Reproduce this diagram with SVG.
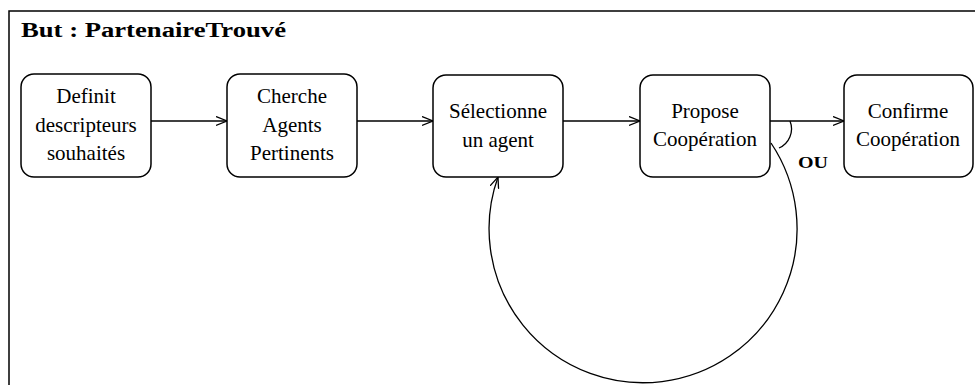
<svg xmlns="http://www.w3.org/2000/svg" width="975" height="385" viewBox="0 0 975 385">
<style>
.frame{fill:none;stroke:#000;stroke-width:1.5}
.node rect{fill:#fff;stroke:#000;stroke-width:1.5}
.node text{font-family:"Liberation Serif","DejaVu Serif",serif;font-size:21px;text-anchor:middle;fill:#000}
.conn{fill:none;stroke:#000;stroke-width:1.3}
.title{font-family:"Liberation Serif","DejaVu Serif",serif;font-size:20px;font-weight:bold;fill:#000}
.lbl{font-family:"Liberation Serif","DejaVu Serif",serif;font-size:17px;font-weight:bold;fill:#000}
</style>
<defs>
<marker id="arr" markerUnits="userSpaceOnUse" markerWidth="14" markerHeight="12" refX="11" refY="5" orient="auto">
<path d="M0,0.5 L11,5 L0,9.5" fill="none" stroke="#000" stroke-width="1.3"/>
</marker>
</defs>
<rect width="975" height="385" fill="#fff"/>
<path class="frame" d="M9,385 V11 H975"/>
<text class="title" x="21" y="37" textLength="265" lengthAdjust="spacingAndGlyphs">But : PartenaireTrouvé</text>
<g id="connectors">
<line class="conn" x1="151" y1="121" x2="227" y2="121" marker-end="url(#arr)"/>
<line class="conn" x1="357" y1="121" x2="433" y2="121" marker-end="url(#arr)"/>
<line class="conn" x1="563" y1="121" x2="640" y2="121" marker-end="url(#arr)"/>
<line class="conn" x1="770" y1="121" x2="844" y2="121" marker-end="url(#arr)"/>
<path class="conn" d="M771,143 A154,154 0 1 1 498,177" marker-end="url(#arr)"/>
<path class="conn" d="M790,121 A21,21 0 0 1 779,148"/>
<text class="lbl" x="798" y="168" textLength="30" lengthAdjust="spacingAndGlyphs">OU</text>
</g>
<g id="n1" class="node">
<rect x="21" y="74" width="130" height="103" rx="13"/>
<text x="86" y="103">Definit</text>
<text x="86" y="132">descripteurs</text>
<text x="86" y="160">souhaités</text>
</g>
<g id="n2" class="node">
<rect x="227" y="74" width="130" height="103" rx="13"/>
<text x="292" y="103">Cherche</text>
<text x="292" y="132">Agents</text>
<text x="292" y="160">Pertinents</text>
</g>
<g id="n3" class="node">
<rect x="433" y="75" width="130" height="102" rx="13"/>
<text x="498" y="118">Sélectionne</text>
<text x="498" y="147">un agent</text>
</g>
<g id="n4" class="node">
<rect x="640" y="75" width="130" height="102" rx="13"/>
<text x="705" y="118">Propose</text>
<text x="705" y="146">Coopération</text>
</g>
<g id="n5" class="node">
<rect x="844" y="75" width="129" height="102" rx="13"/>
<text x="908" y="118">Confirme</text>
<text x="908" y="146">Coopération</text>
</g>
</svg>
